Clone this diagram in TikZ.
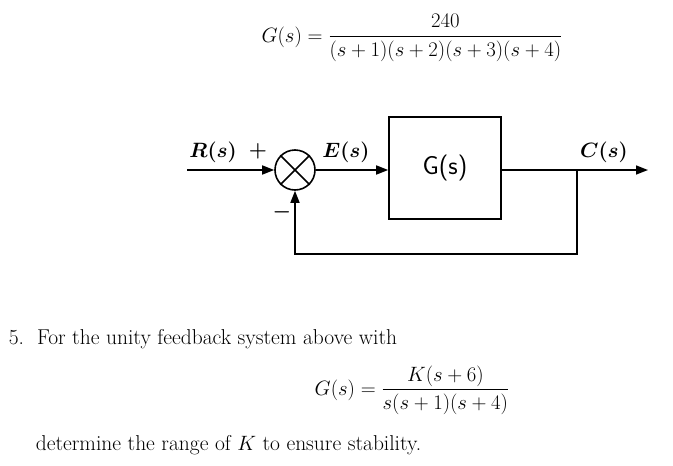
\documentclass[tikz,border=0pt]{standalone}
\usepackage{amsmath}
\usetikzlibrary{positioning,calc,arrows.meta}
\begin{document}
\begin{tikzpicture}[x=1pt,y=-1pt,-{Triangle[length=12pt,width=9pt]},line width=1.6pt,
  txt/.style={font=\fontsize{21.5}{26}\selectfont,inner sep=0pt},
  lbl/.style={font=\fontsize{22}{26}\selectfont\boldmath,inner sep=0pt}]
\useasboundingbox (0,0) rectangle (673,466);

%%%%%%%%%%%%%%%%%%%%%% EQUATIONS
\node[txt] (eqtop) at (412,38) {$G(s)=\dfrac{240}{(s+1)(s+2)(s+3)(s+4)}$};
\node[txt,anchor=west] (q5) at (8,339) {5.\ \ For the unity feedback system above with};
\node[txt] (eqk) at (412,390) {$G(s)=\dfrac{K(s+6)}{s(s+1)(s+4)}$};
\node[txt,anchor=west] (det) at (35,445) {determine the range of $K$ to ensure stability.};

%%%%%%%%%%%%%%%%%%%%%% BLOCK DIAGRAM
\coordinate (in) at (187,170);
\node[draw,circle,minimum size=40pt,inner sep=0pt] (sum) at (295,170) {};
\draw[-] (sum.north west) -- (sum.south east);
\draw[-] (sum.north east) -- (sum.south west);
\node[draw,minimum width=112pt,minimum height=102pt,font=\sffamily\fontsize{26}{30}\selectfont] (G) at (445,168) {G(s)};
\coordinate (br) at (577,170);
\coordinate (out) at (648,170);
\coordinate (fb) at (577,254);

\draw (in) -- (sum);
\draw (sum) -- (G.west |- sum);
\draw (G.east |- sum) -- (out);
\draw (br) -- (fb) -| (sum);

\node[lbl] (R) at (213,152) {$R(s)$};
\node[lbl] (plus) at (258,151) {$+$};
\node[lbl] (minus) at (282,212) {$-$};
\node[lbl] (E) at (346,152) {$E(s)$};
\node[lbl] (C) at (604,152) {$C(s)$};
\end{tikzpicture}
\end{document}
